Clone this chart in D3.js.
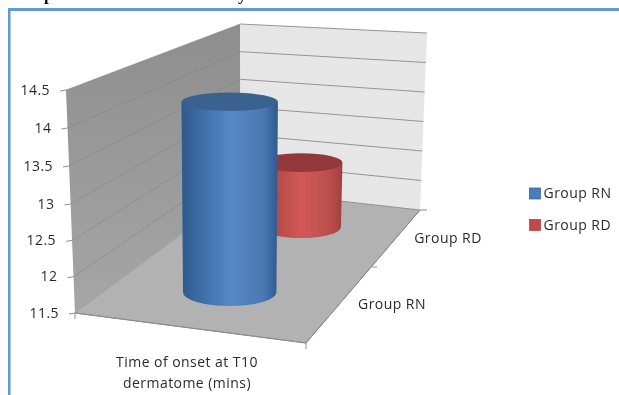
<!DOCTYPE html>
<html>
<head>
<meta charset="utf-8">
<style>
html,body{margin:0;padding:0;background:#fff}
svg{display:block}
text{font-family:"Open Sans","Noto Sans",sans-serif;fill:#2b2b2b;font-size:14px;letter-spacing:.45px}
text.heading{font-family:"Liberation Serif",serif;font-weight:bold;font-size:17px;fill:#111;letter-spacing:0}
</style>
<script src="https://cdn.jsdelivr.net/npm/d3@7/dist/d3.min.js"></script>
</head>
<body>
<svg id="chart" width="619" height="395"></svg>
<script>
// Onset times per group
const seriesNames = ["Group RN", "Group RD"];
const seriesValues = [14.25, 12.56];
const valueTicks = [11.5, 12, 12.5, 13, 13.5, 14, 14.5];
const tickLabels = ["11.5", "12", "12.5", "13", "13.5", "14", "14.5"];
const categoryLines = ["Time of onset at T10", "dermatome (mins)"];

const svg = d3.select("#chart");
const defs = svg.append("defs");
const soften = defs.append("filter").attr("id", "soft");
soften.append("feGaussianBlur").attr("stdDeviation", 0.45);

const root = svg.append("g").attr("filter", "url(#soft)");

// Bottom of the heading line that runs off the top edge
root.selectAll("text.heading").data([["p", 44], ["y", 238]]).join("text")
  .attr("class", "heading")
  .attr("x", d => d[1]).attr("y", 0)
  .text(d => d[0]);

// Frame of the figure: top and left rules only
root.append("rect").attr("x", 8).attr("y", 8).attr("width", 611).attr("height", 3).attr("fill", "#5b9bd5");
root.append("rect").attr("x", 8).attr("y", 8).attr("width", 2.5).attr("height", 387).attr("fill", "#5b9bd5");

// Corners of the 3D box
const frontLeft = { top: [66, 90], bottom: [75, 313] };
const back = { top: [240, 24], bottom: [241, 190] };
const backRight = { top: [427, 33], bottom: [420, 210] };
const frontRight = [306, 343];

// Value axis along each vertical edge of the box (foreshortened toward the far end)
const vDomain = [11.5, 13, 14.5];
const yFront = d3.scaleLinear().domain(vDomain).range([frontLeft.bottom[1], 204, frontLeft.top[1]]);
const xFront = d3.scaleLinear().domain([11.5, 14.5]).range([frontLeft.bottom[0], frontLeft.top[0]]);
const yBack = d3.scaleLinear().domain([11.5, 14.5]).range([back.bottom[1], back.top[1]]);
const xBack = d3.scaleLinear().domain([11.5, 14.5]).range([back.bottom[0], back.top[0]]);
const yRight = d3.scaleLinear().domain([11.5, 14.5]).range([backRight.bottom[1], backRight.top[1]]);
const xRight = d3.scaleLinear().domain([11.5, 14.5]).range([backRight.bottom[0], backRight.top[0]]);

const wallPath = pts => "M" + pts.map(p => p.join(",")).join("L") + "Z";

// Walls and floor
const leftShade = defs.append("linearGradient").attr("id", "leftWall")
  .attr("x1", 0).attr("y1", 0).attr("x2", 0).attr("y2", 1);
leftShade.append("stop").attr("offset", 0).attr("stop-color", "#8e8e8e");
leftShade.append("stop").attr("offset", 1).attr("stop-color", "#a6a6a6");

root.append("path")
  .attr("d", wallPath([frontLeft.top, back.top, back.bottom, frontLeft.bottom]))
  .attr("fill", "url(#leftWall)");
root.append("path")
  .attr("d", wallPath([back.top, backRight.top, backRight.bottom, back.bottom]))
  .attr("fill", "#e6e6e6");
root.append("path")
  .attr("d", wallPath([frontLeft.bottom, frontRight, backRight.bottom, back.bottom]))
  .attr("fill", "#b2b2b2");

// Gridlines on both walls
const grid = root.append("g").attr("fill", "none");
grid.selectAll("path.leftGrid").data(valueTicks).join("path")
  .attr("class", "leftGrid")
  .attr("stroke", "#7c7c7c").attr("stroke-width", 0.6).attr("stroke-opacity", 0.7)
  .attr("d", v => `M${xFront(v)},${yFront(v)}L${xBack(v)},${yBack(v)}`);
grid.selectAll("path.backGrid").data(valueTicks).join("path")
  .attr("class", "backGrid")
  .attr("stroke", "#8a8a8a").attr("stroke-width", 0.9)
  .attr("d", v => `M${xBack(v)},${yBack(v)}L${xRight(v)},${yRight(v)}`);

// Box outlines that read as axes
root.append("path").attr("fill", "none").attr("stroke", "#8c8c8c").attr("stroke-width", 1)
  .attr("d", wallPath([frontLeft.bottom, frontRight]) + wallPath([frontRight, backRight.bottom]));

// Value axis ticks and labels
const axisY = root.append("g");
axisY.selectAll("line").data(valueTicks).join("line")
  .attr("x1", v => xFront(v) - 6).attr("x2", v => xFront(v))
  .attr("y1", v => yFront(v) + 1).attr("y2", v => yFront(v))
  .attr("stroke", "#8c8c8c");
axisY.selectAll("text").data(valueTicks).join("text")
  .attr("x", v => xFront(v) - 16)
  .attr("y", v => yFront(v) + 1)
  .attr("text-anchor", "end")
  .attr("dominant-baseline", "middle")
  .text((v, i) => tickLabels[i]);

// Ticks on the front and side floor edges
root.append("path").attr("fill", "none").attr("stroke", "#8c8c8c")
  .attr("d", `M75,313v6M306,343v6M377,267l-5,0M420,210l7,0`);

// Category label under the front edge
root.append("text").selectAll("tspan").data(categoryLines).join("tspan")
  .attr("x", 187).attr("y", (d, i) => 367 + i * 21)
  .attr("text-anchor", "middle")
  .text(d => d);

// Depth labels along the side edge
const depthLabels = root.append("g");
depthLabels.selectAll("text").data(seriesNames).join("text")
  .attr("x", (d, i) => [392, 448][i])
  .attr("y", (d, i) => [305, 239][i])
  .attr("text-anchor", "middle")
  .attr("dominant-baseline", "middle")
  .text(d => d);

// Position of a cylinder inside the box, from near (0) to far (1)
const depth = d3.scaleOrdinal().domain(seriesNames).range([0.28, 0.79]);
const floorX = d3.scaleLinear().domain([0, 1]).range([190.5, 330.5]);
const floorY = d3.scaleLinear().domain([0, 1]).range([328, 200]);
const unitHeight = d3.scaleLinear().domain([0, 1]).range([74, 57]);
const radiusX = d3.scaleLinear().domain([0, 1]).range([52, 38.5]);
const baseRy = d3.scaleLinear().domain([0, 1]).range([15.5, 10]);
const topRy = d3.scaleLinear().domain([0, 1]).range([9, 9.5]);

const palette = [
  { edge: "#2e5a8e", mid: "#5588c8", cap: "#3b628f", key: "#4a7ebb" },
  { edge: "#a03f3d", mid: "#d25957", cap: "#93393a", key: "#be4b48" }
];

palette.forEach((c, i) => {
  const g = defs.append("linearGradient").attr("id", "cyl" + i)
    .attr("x1", 0).attr("y1", 0).attr("x2", 1).attr("y2", 0);
  g.append("stop").attr("offset", 0).attr("stop-color", c.edge);
  g.append("stop").attr("offset", 0.5).attr("stop-color", c.mid);
  g.append("stop").attr("offset", 0.85).attr("stop-color", d3.color(c.mid).darker(0.35));
  g.append("stop").attr("offset", 1).attr("stop-color", c.edge);
});

// Far cylinder first so the near one overlaps it
const cylinders = root.append("g");
const order = seriesNames.map((name, i) => ({ name, value: seriesValues[i], i })).reverse();
order.forEach(d => {
  const t = depth(d.name);
  const cx = floorX(t);
  const by = floorY(t);
  const ty = by - (d.value - 11.5) * unitHeight(t);
  const rx = radiusX(t);
  const g = cylinders.append("g");
  g.append("path")
    .attr("d", `M${cx - rx},${ty}L${cx - rx + 1.5},${by}A${rx - 1.5},${baseRy(t)} 0 0 0 ${cx + rx - 1.5},${by}L${cx + rx},${ty}Z`)
    .attr("fill", `url(#cyl${d.i})`);
  g.append("ellipse")
    .attr("cx", cx).attr("cy", ty).attr("rx", rx).attr("ry", topRy(t))
    .attr("fill", palette[d.i].cap);
});

// Legend
const legend = root.append("g");
const legendRows = legend.selectAll("g").data(seriesNames).join("g");
legendRows.append("rect")
  .attr("x", 529.5).attr("y", (d, i) => 188 + i * 31.5)
  .attr("width", 11).attr("height", 11)
  .attr("fill", (d, i) => palette[i].key)
  .attr("stroke", (d, i) => palette[i].edge).attr("stroke-width", 0.7);
legendRows.append("text")
  .attr("x", 543.5).attr("y", (d, i) => 194 + i * 32)
  .attr("dominant-baseline", "middle")
  .text(d => d);
</script>
</body>
</html>
